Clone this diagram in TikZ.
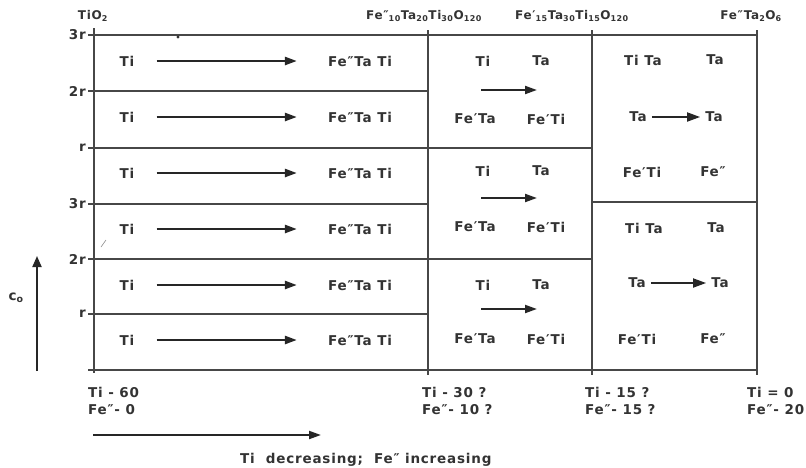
\documentclass[tikz,border=0pt]{standalone}
\usepackage{fontspec}
\setmainfont{DejaVu Sans}
\usetikzlibrary{arrows.meta}
% wide, slightly spaced bold lettering for all labels
\newfontfamily\labfont[LetterSpace=6]{DejaVu Sans}
\newcommand\dpr{″}
\newcommand\spr{′}
\newcommand\Fdd{Fe\dpr}
\newcommand\Fd{Fe\spr}
\newcommand\sub[1]{\textsubscript{#1}}

\tikzset{
  gridline/.style={line width=1.3pt, draw=black!72},
  lbl/.style={font=\labfont\bfseries\fontsize{13.5}{14}\selectfont, text=black!80, inner sep=0pt},
  hdr/.style={font=\labfont\bfseries\fontsize{12}{13}\selectfont, text=black!80, inner sep=0pt},
  ylab/.style={lbl, anchor=east},
  bot/.style={lbl, anchor=west},
  bigarrow/.style={line width=2.4pt, draw=black!85, -{Triangle[length=12pt,width=8pt]}},
  smallarrow/.style={line width=2pt, draw=black!85, -{Triangle[length=12pt,width=8pt]}},
  taarrow/.style={line width=1.8pt, draw=black!85, -{Triangle[length=13pt,width=9pt]}, shorten <=5pt, shorten >=5pt}
}

\begin{document}
\begin{tikzpicture}[x=1pt,y=-1pt]
\useasboundingbox (0,0) rectangle (806,467);

% ---- frame of the chart ----
\draw[gridline] (94,28) -- (94,373);
\draw[gridline] (428,30) -- (428,375);
\draw[gridline] (592,30) -- (592,375);
\draw[gridline] (757,30) -- (757,375);
\draw[gridline] (88,35) -- (757,35);
\draw[gridline] (88,91) -- (428,91);
\draw[gridline] (88,148) -- (592,148);
\draw[gridline] (88,204) -- (428,204);
\draw[gridline] (592,202) -- (757,202);
\draw[gridline] (88,259) -- (592,259);
\draw[gridline] (88,314) -- (428,314);
\draw[gridline] (88,370) -- (757,370);

% small marks on the sheet
\fill[black!80] (178,37) circle (1.6pt);
\draw[black!45, line width=0.6pt] (101,247) -- (106,240);

% ---- composition headers ----
\node[hdr] (hTiO) at (93,16) {TiO\sub{2}};
\node[hdr] (hA) at (424,16) {\Fdd\sub{10}Ta\sub{20}Ti\sub{30}O\sub{120}};
\node[hdr] (hB) at (572,16) {\Fd\sub{15}Ta\sub{30}Ti\sub{15}O\sub{120}};
\node[hdr] (hC) at (751,16) {\Fdd Ta\sub{2}O\sub{6}};

% ---- c_o levels ----
\node[ylab] (y1) at (86,35) {3r};
\node[ylab] (y2) at (86,91) {2r};
\node[ylab] (y3) at (86,148) {r};
\node[ylab] (y4) at (86,204) {3r};
\node[ylab] (y5) at (86,259) {2r};
\node[ylab] (y6) at (86,314) {r};

% ---- left column: Ti -> Fe''TaTi ----
\foreach \k/\yy in {1/61,2/117,3/173,4/229,5/285,6/340}{
  \node[lbl] (ti\k) at (127,\yy) {Ti};
  \node[lbl] (fe\k) at (360,\yy) {\Fdd Ta Ti};
  \draw[bigarrow, shorten <=22pt, shorten >=31pt] (ti\k.east) -- (fe\k.west);
}

% ---- middle column: three blocks ----
\foreach \k/\ya/\yb/\yc in {1/61/90/119, 2/171/198/227, 3/285/309/339}{
  \node[lbl] (mTi\k) at (483,\ya) {Ti};
  \node[lbl] (mTa\k) at (541,\ya) {Ta};
  \coordinate (mS\k) at (481,\yb);
  \coordinate (mE\k) at (537,\yb);
  \draw[smallarrow] (mS\k) -- (mE\k);
  \node[lbl] (mFa\k) at (475,\yc) {\Fd Ta};
  \node[lbl] (mFb\k) at (546,\yc) {\Fd Ti};
}

% ---- right column: two blocks ----
\node[lbl] (rTT1) at (643,60) {Ti Ta};
\node[lbl] (rTa1) at (715,60) {Ta};
\node[lbl] (rL1) at (638,117) {Ta};
\node[lbl] (rR1) at (714,117) {Ta};
\draw[taarrow] (rL1) -- (rR1);
\node[lbl] (rF1) at (642,172) {\Fd Ti};
\node[lbl] (rG1) at (713,172) {\Fdd};

\node[lbl] (rTT2) at (644,228) {Ti Ta};
\node[lbl] (rTa2) at (716,228) {Ta};
\node[lbl] (rL2) at (637,283) {Ta};
\node[lbl] (rR2) at (720,283) {Ta};
\draw[taarrow] (rL2) -- (rR2);
\node[lbl] (rF2) at (637,339) {\Fd Ti};
\node[lbl] (rG2) at (713,339) {\Fdd};

% ---- compositions along the bottom ----
\node[bot] (b1a) at (88,392) {Ti - 60};
\node[bot] (b1b) at (88,410) {\Fdd- 0};
\node[bot] (b2a) at (422,392) {Ti - 30 ?};
\node[bot] (b2b) at (422,410) {\Fdd- 10 ?};
\node[bot] (b3a) at (585,392) {Ti - 15 ?};
\node[bot] (b3b) at (585,410) {\Fdd- 15 ?};
\node[bot] (b4a) at (747,392) {Ti = 0};
\node[bot] (b4b) at (747,410) {\Fdd- 20};

% ---- trend arrow and its caption ----
\coordinate (tS) at (93,435);
\coordinate (tE) at (321,435);
\draw[bigarrow, line width=2pt] (tS) -- (tE);
\node[bot] (trend) at (240,460) {Ti\ \ decreasing;\ \ \Fdd\ increasing};

% ---- c_o axis arrow ----
\coordinate (cS) at (37,371);
\coordinate (cE) at (37,256);
\draw[line width=2pt, draw=black!85, -{Triangle[length=11pt,width=9pt]}] (cS) -- (cE);
\node[lbl] (co) at (16,298) {c\sub{o}};
\end{tikzpicture}
\end{document}
